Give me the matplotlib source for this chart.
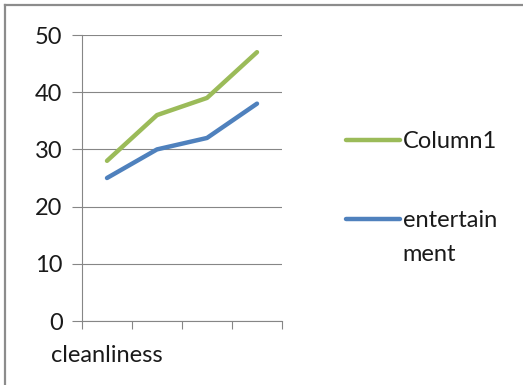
import matplotlib.pyplot as plt
from matplotlib.lines import Line2D

# data
categories = ["cleanliness", "", "", ""]
column1 = [28, 36, 39, 47]
entertainment = [25, 30, 32, 38]
y_ticks = [0, 10, 20, 30, 40, 50]

plt.rcParams['font.family'] = ['Lato', 'DejaVu Sans']
fs = 17
grey = '#868686'
txt = '#1a1a1a'

fig = plt.figure(figsize=(5.23, 3.85), dpi=100)
ax = fig.add_axes([82 / 523, 1 - 321 / 385, 200 / 523, 286 / 385])

x = list(range(len(categories)))
ax.plot(x, column1, color='#9BBB59', lw=3.2, solid_capstyle='round', label='Column1')
ax.plot(x, entertainment, color='#4F81BD', lw=3.2, solid_capstyle='round', label='entertain')

ax.set_xlim(-0.5, len(categories) - 0.5)
ax.set_ylim(0, 50)
ax.set_yticks(y_ticks)
ax.yaxis.grid(True, color=grey, lw=0.8)
ax.set_axisbelow(True)

# category boundaries as tick marks, labels at the centres
ax.set_xticks([i - 0.5 for i in range(len(categories) + 1)])
ax.set_xticklabels([])
ax.set_xticks(x, minor=True)
ax.set_xticklabels(categories, minor=True)
ax.tick_params(axis='x', which='major', length=6, color=grey, width=0.8)
ax.tick_params(axis='x', which='minor', length=0, pad=17, labelsize=fs, labelcolor=txt)
ax.tick_params(axis='y', length=7, color=grey, width=0.8, pad=7, labelsize=fs, labelcolor=txt)

for side in ['top', 'right']:
    ax.spines[side].set_visible(False)
for side in ['left', 'bottom']:
    ax.spines[side].set_color(grey)
    ax.spines[side].set_linewidth(0.8)

leg = ax.legend(loc='upper left', bbox_to_anchor=(346 / 523, 1 - 131 / 385),
                bbox_transform=fig.transFigure, frameon=False, fontsize=fs,
                handlelength=2.3, handletextpad=0.1, labelspacing=2.45,
                borderpad=0, borderaxespad=0)
for t in leg.get_texts():
    t.set_color(txt)

# the legend label wraps in the original: put the rest under "entertain"
fig.canvas.draw()
bb = leg.get_texts()[1].get_window_extent()
fig.text(bb.x0, bb.y0 - 34, 'ment', fontsize=fs, color=txt, ha='left', va='bottom',
         transform=None)

# outer chart border (left and top only visible)
fig.add_artist(Line2D([4.5 / 523, 4.5 / 523], [0, 1 - 5 / 385], transform=fig.transFigure,
                      color='#8c8c8c', lw=1.6))
fig.add_artist(Line2D([4.5 / 523, 1], [1 - 5 / 385, 1 - 5 / 385], transform=fig.transFigure,
                      color='#8c8c8c', lw=1.6))

fig.savefig('out.png', dpi=100)
